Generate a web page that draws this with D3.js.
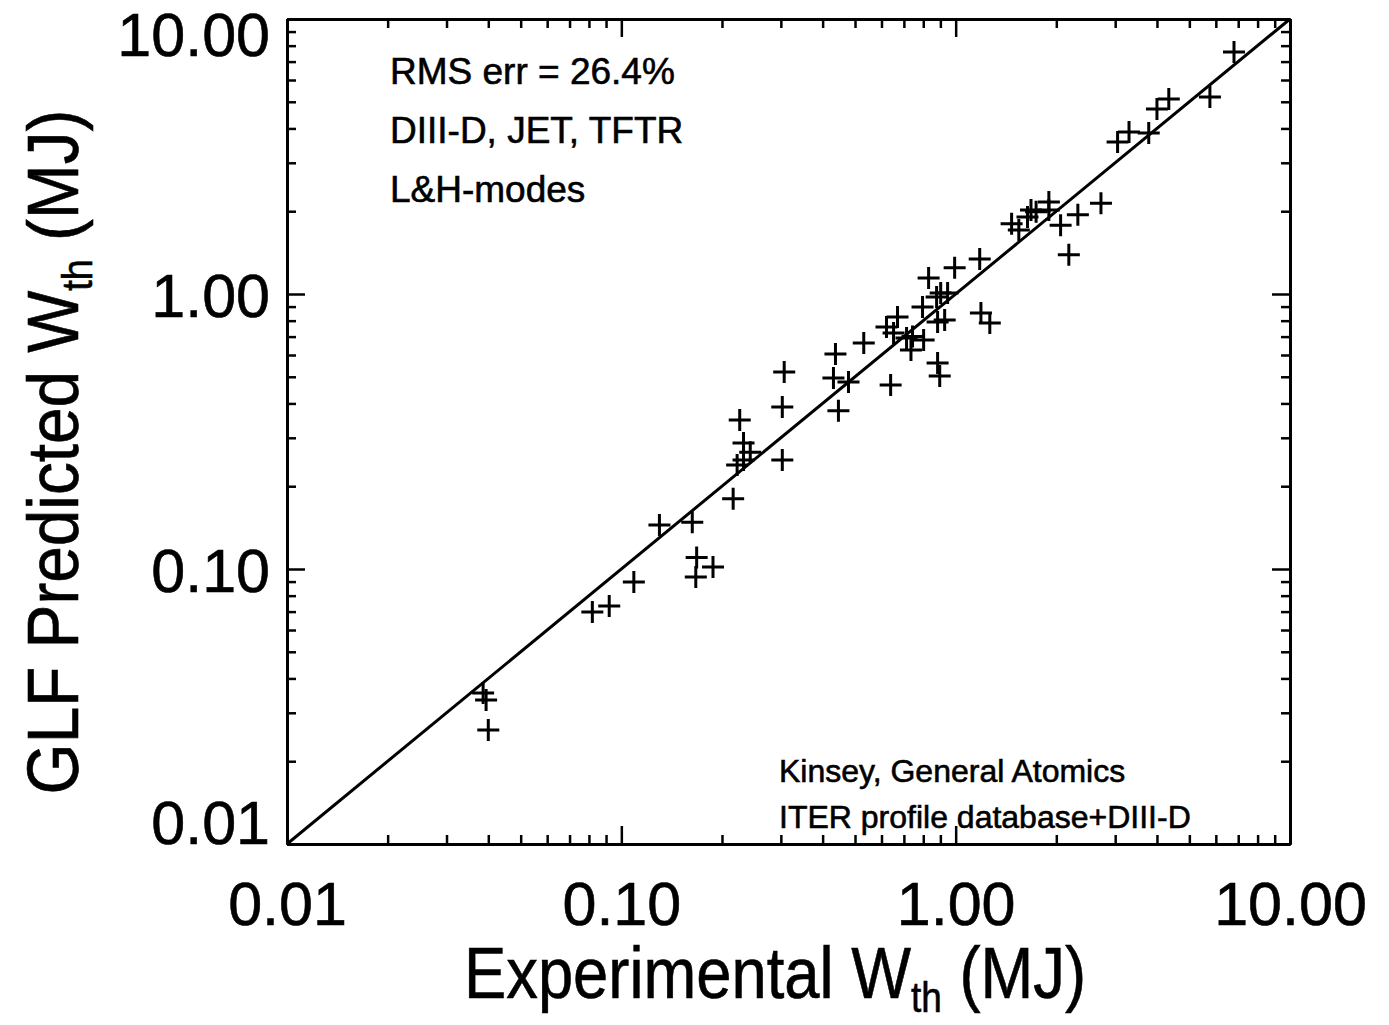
<!DOCTYPE html>
<html>
<head>
<meta charset="utf-8">
<script src="https://cdn.jsdelivr.net/npm/d3@7"></script>
<style>
  body { margin: 0; background: #fff; }
  svg text { font-family: "Liberation Sans", Arial, Helvetica, sans-serif; fill: #000; stroke: #000; stroke-width: 0.6px; }
</style>
</head>
<body>
<svg id="chart" width="1389" height="1025"></svg>
<script>
// experimental vs predicted stored energy (MJ)
var expW = [0.0386, 0.0394, 0.040, 0.0819, 0.092, 0.109, 0.130, 0.163, 0.168, 0.167,
	0.188, 0.216, 0.226, 0.222, 0.232, 0.232, 0.243, 0.303, 0.303, 0.307,
	0.437, 0.431, 0.478, 0.446, 0.531, 0.639, 0.621, 0.670, 0.652, 0.713,
	0.743, 0.735, 0.802, 0.830, 0.796, 0.877, 0.902, 0.946, 0.883, 0.927,
	0.883, 0.896, 0.993, 1.18, 1.19, 1.265, 1.47, 1.545, 1.64, 1.68,
	1.74, 1.90, 1.90, 2.06, 2.32, 2.18, 2.72, 3.05, 3.30, 3.78,
	4.00, 4.34, 5.76, 6.80];
var predW = [0.0354, 0.0334, 0.026, 0.0698, 0.0733, 0.0897, 0.1445, 0.148, 0.110, 0.0935,
	0.1017, 0.180, 0.348, 0.239, 0.287, 0.249, 0.266, 0.249, 0.388, 0.520,
	0.605, 0.495, 0.479, 0.376, 0.663, 0.467, 0.759, 0.825, 0.722, 0.692,
	0.700, 0.626, 0.680, 1.143, 0.897, 0.976, 1.009, 1.009, 0.791, 0.804,
	0.561, 0.503, 1.245, 1.34, 0.853, 0.785, 1.80, 1.71, 1.905, 2.02,
	1.99, 2.16, 2.02, 1.78, 1.94, 1.39, 2.14, 3.57, 3.88, 3.85,
	4.71, 5.12, 5.20, 7.59];
var majorTicks = [0.01, 0.1, 1, 10];
var tickLabels = ["0.01", "0.10", "1.00", "10.00"];
var notesTop = ["RMS err = 26.4%", "DIII-D, JET, TFTR", "L&H-modes"];
var notesBottom = ["Kinsey, General Atomics", "ITER profile database+DIII-D"];

// plot frame (window.top is reserved, so prefixed names)
var plotL = 287, plotR = 1290, plotT = 19, plotB = 844;
var majorLen = 18, minorLen = 9;

var svg = d3.select("#chart");

var x = d3.scaleLog().domain([0.01, 10]).range([plotL, plotR]);
var y = d3.scaleLog().domain([0.01, 10]).range([plotB, plotT]);

// minor ticks 2..9 in each decade
var minorTicks = [];
[0.01, 0.1, 1].forEach(function(d) {
	for (var k = 2; k <= 9; k++) minorTicks.push(d * k);
});

function addAxis(axisFn, scale, transform, values, len, labels) {
	var g = svg.append("g").attr("transform", transform)
		.call(axisFn(scale).tickValues(values).tickSizeInner(-len).tickSizeOuter(0)
			.tickFormat(labels ? function(d, i) { return labels[i]; } : ""));
	g.selectAll("line").attr("stroke", "#000").attr("stroke-width", 2.5);
	g.select(".domain").attr("stroke", "#000").attr("stroke-width", 3);
	g.selectAll("text").attr("font-size", 61).attr("fill", "#000");
	return g;
}

// minor ticks on all four sides
addAxis(d3.axisBottom, x, "translate(0," + plotB + ")", minorTicks, minorLen, null);
addAxis(d3.axisTop, x, "translate(0," + plotT + ")", minorTicks, minorLen, null);
addAxis(d3.axisLeft, y, "translate(" + plotL + ",0)", minorTicks, minorLen, null);
addAxis(d3.axisRight, y, "translate(" + plotR + ",0)", minorTicks, minorLen, null);

// major ticks with labels
var xb = addAxis(d3.axisBottom, x, "translate(0," + plotB + ")", majorTicks, majorLen, tickLabels);
xb.selectAll("text").attr("dy", null).attr("y", 81);
addAxis(d3.axisTop, x, "translate(0," + plotT + ")", majorTicks, majorLen, null);
var yl = addAxis(d3.axisLeft, y, "translate(" + plotL + ",0)", majorTicks, majorLen, tickLabels);
yl.selectAll("text")
	.attr("x", -17)
	.attr("dy", null)
	.attr("y", function(d) { return d === 10 ? 36 : (d === 0.01 ? -1 : 22); });
addAxis(d3.axisRight, y, "translate(" + plotR + ",0)", majorTicks, majorLen, null);

// one-to-one line
svg.append("line")
	.attr("x1", x(0.01)).attr("y1", y(0.01))
	.attr("x2", x(10)).attr("y2", y(10))
	.attr("stroke", "#000").attr("stroke-width", 3);

// plus markers
var pts = expW.map(function(d, i) { return [d, predW[i]]; });
svg.append("g").selectAll("path").data(pts).enter().append("path")
	.attr("transform", function(d) { return "translate(" + x(d[0]) + "," + y(d[1]) + ")"; })
	.attr("d", "M-11,0H11M0,-11V11")
	.attr("stroke", "#000").attr("stroke-width", 3);

// annotations
svg.append("g").selectAll("text").data(notesTop).enter().append("text")
	.attr("x", 390).attr("y", function(d, i) { return 84 + i * 59; })
	.attr("font-size", 37).text(function(d) { return d; });
svg.append("g").selectAll("text").data(notesBottom).enter().append("text")
	.attr("x", 779).attr("y", function(d, i) { return 782 + i * 46; })
	.attr("font-size", 32).text(function(d) { return d; });

// axis titles
var xt = svg.append("text")
	.attr("text-anchor", "middle")
	.attr("transform", "translate(775,998) scale(0.88,1)")
	.attr("font-size", 72);
xt.append("tspan").text("Experimental W");
xt.append("tspan").attr("font-size", 42).attr("dy", 14).text("th");
xt.append("tspan").attr("dy", -14).text(" (MJ)");

var yt = svg.append("text")
	.attr("text-anchor", "middle")
	.attr("transform", "translate(78,452) rotate(-90) scale(0.9,1)")
	.attr("font-size", 73);
yt.append("tspan").text("GLF Predicted W");
yt.append("tspan").attr("font-size", 42).attr("dy", 14).text("th");
yt.append("tspan").attr("dy", -14).text(" (MJ)");
</script>
</body>
</html>
